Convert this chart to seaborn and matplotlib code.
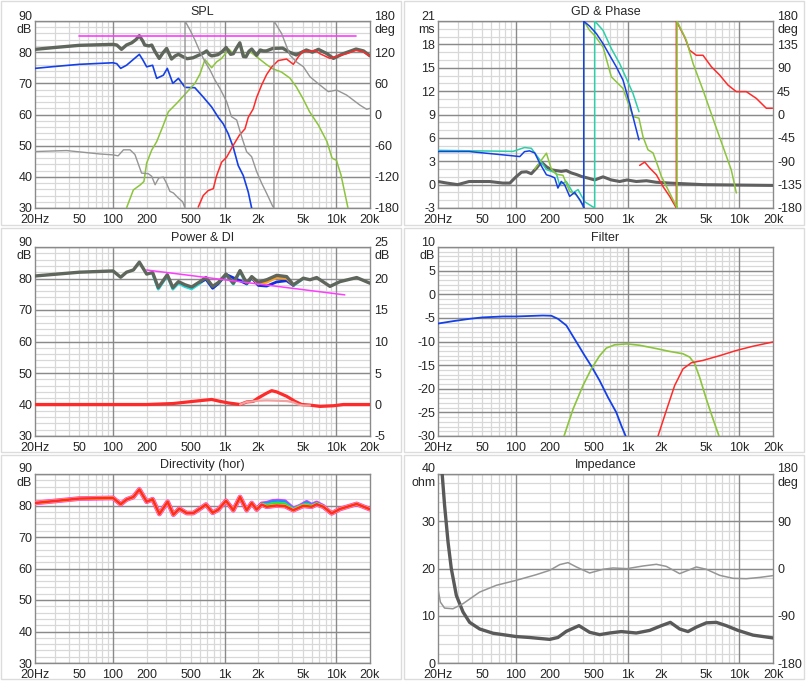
import matplotlib
matplotlib.use("Agg")
import matplotlib.pyplot as plt
import seaborn as sns
from matplotlib.patches import Rectangle
from matplotlib.ticker import NullLocator

sns.set_style("white")
plt.rcParams['font.family'] = ['Liberation Sans', 'DejaVu Sans']

# ---------------- data ----------------
# SPL panel
spl_total_f = [20,30,50,100,108,119,132,147,160,172,185,192,210,222,235,246,259,280,302,320,334,360,385,420,460,520,600,650,689,730,765,870,950,1030,1130,1194,1260,1365,1470,1550,1650,1745,1930,2080,2217,2360,2700,3300,3800,4370,5380,6100,6900,8250,9400,11500,15000,17500,20000]
spl_total_db = [80.9,81.5,82.2,82.5,82.3,80.9,82.3,83.0,84.0,85.3,83.5,82.3,82.0,82.3,80.5,79.3,78.0,79.8,81.2,79.2,77.8,78.8,79.3,78.6,77.9,78.2,79.2,79.8,80.4,79.2,78.8,79.2,80.2,81.5,79.3,79.5,81.0,83.0,78.6,78.5,80.3,81.0,79.0,80.7,80.4,80.4,81.2,81.3,80.0,79.1,80.7,80.0,80.9,79.5,78.0,79.5,81.0,80.4,78.8]
spl_woofer_f = [20,30,50,100,108,117,132,150,172,185,200,226,246,282,306,343,385,441,540,642,764,875,970,1076,1192,1322,1466,1625,1742]
spl_woofer_db = [74.8,75.4,76.1,76.6,76.3,74.8,75.8,77.5,79.3,77.5,75.3,75.8,71.6,72.6,74.8,70.0,71.6,68.7,68.6,65.6,62.4,59.1,57.0,53.8,49.5,43.6,40.4,35.1,30.0]
spl_mid_f = [132,152,175,189,200,222,246,282,313,372,441,541,600,665,764,847,938,1090,1192,1370,1518,1680,1932,2372,2680,3230,3830,4370,5000,5750,6900,8240,9140,10000,11000,12700]
spl_mid_db = [30.0,35.8,37.4,38.5,44.4,48.6,51.3,56.6,60.9,63.6,66.5,70.0,73.0,77.6,75.0,76.9,78.0,81.0,79.5,83.0,78.5,80.2,78.5,76.0,74.7,73.6,71.7,68.9,65.2,60.9,56.6,51.3,46.0,45.3,40.6,30.0]
spl_tweeter_f = [579,642,712,790,847,938,1040,1192,1350,1518,1625,1800,1932,2143,2372,2630,3015,3580,4116,4563,5059,5608,6434,7133,8766,10056,12358,14970,17430,20000]
spl_tweeter_db = [30.3,34.0,35.6,36.2,40.4,44.7,46.3,50.1,53.3,55.4,59.1,61.8,65.5,69.5,72.8,75.2,77.3,77.8,76.1,78.5,80.4,80.1,80.6,79.5,78.0,78.7,79.5,80.6,80.1,78.7]
spl_target_f = [50, 15000]
spl_target_db = [85.2, 85.2]
spl_phase_f = [20,38.4,76,100,111,124,142,157,180,207,222,238,257,282,302,323,347,385,420,441,441,489,541,600,665,738,817,905,1040,1150,1280,1417,1570,1742,1932,2143,2372,2680,2760,2760,3230,3843,4409,5059,5804,7133,8470,10056,12358,16270,18670,20000]
spl_phase_deg = [-71.3,-69.4,-76,-77.7,-79.6,-68,-68,-77,-112.8,-114,-119,-135.2,-122,-120.5,-133,-148,-151,-161,-168,-180,180,162.7,143.4,121,101.7,85.7,66.4,50.4,24.7,-4.2,-10.6,-42.7,-71.6,-81.2,-110,-132.4,-151.7,-176,-180,180,156,114,101,92,72.6,56.6,44,47,37.4,18,10,11.8]

# GD & Phase panel
gd_f = [20,24,30,38,58,76,88,100,112,124,137,152,168,187,207,229,254,282,313,347,385,441,506,601,713,847,986,1194,1470,1805,2375,3349,4723,9389,20000]
gd_ms = [0.4,0.2,0.0,0.4,0.4,0.2,0.2,1.0,1.6,1.65,1.4,2.1,2.9,2.3,1.9,1.8,1.7,1.8,1.5,1.3,1.05,0.84,0.6,1.0,0.6,0.4,0.6,0.4,0.5,0.3,0.2,0.1,0.0,-0.05,-0.1]
gd_ph_blue_f = [20,38,94,108,119,132,147,163,187,207,222,237,254,272,302,335,372,398,404,404,412,456,524,601,689,790,908,1041,1154,1261]
gd_ph_blue = [-71.3,-71.3,-79.6,-81,-71.5,-70,-74,-93.7,-116,-119,-122,-141.6,-128.8,-135,-157.6,-150,-164,-175,-180,180,178,170,155.7,136.5,114,91.8,66,21.4,-17,-49]
gd_ph_teal_f = [20,94,119,137,163,187,229,245,282,324,359,412,472,506,506,516,601,713,847,972,1115,1261]
gd_ph_teal = [-69,-71,-63.6,-65,-87,-106,-112.8,-135,-129,-151,-144.5,-168,-176,-180,180,178,162,127,98,69.4,40.6,5.4]
gd_ph_green_f = [147,163,187,207,229,263,302,347,385,404,404,456,506,601,713,908,1115,1261,1371,1519,1686,1868,2000,2375,2725,2763,2763,3349,3843,4723,6007,7133,8470,9389]
gd_ph_green = [-105,-92,-74.5,-105,-115,-117,-148,-155,-170,-180,180,162,152,130,72.6,50,-4,-7,-43,-68,-74,-100,-119,-151,-176.8,-180,180,143,98.5,47,-17,-62,-107,-151]
gd_ph_red_f = [1279,1419,1573,1805,2070,2375,2725,2725,3235,3587,4116,4723,5608,6659,7907,9389,11538,14180,17430,19730]
gd_ph_red = [-98,-91.6,-103,-116,-138.6,-157.6,-180,180,149,123.7,114,114,92,76,56.6,44,44,31,12,12]

# Power & DI panel
pw_f = [20,50,100,117,132,152,172,200,226,254,306,343,385,441,506,601,679,780,876,1027,1194,1371,1573,1745,2000,2375,2918,3587,4116,5059,5804,6659,8766,10771,15190,20000]
pw_db = [80.8,82.0,82.4,80.4,82.0,82.7,85.2,81.4,81.9,77.1,81.2,77.1,79.0,78.0,77.3,79.0,80.3,77.5,78.7,81.4,78.5,82.5,78.5,80.6,78.8,79.6,81.0,80.6,78.0,80.1,79.6,80.3,77.5,79.0,80.3,78.5]
pw_cyan_f = [226,254,306,343,385,441,506,601,679,780,876,1027,1194,1371,1573,1745,2000,2375,2918,3587,4116,5059]
pw_cyan_db = [81.6,76.6,80.9,76.6,78.5,77.4,76.7,78.5,80.0,77.0,78.4,81.2,78.2,82.3,78.2,80.3,78.4,79.2,80.6,80.2,77.7,80.0]
pw_orange_f = [1745,2000,2375,2918,3587,4116]
pw_orange_db = [80.4,78.3,78.8,80.3,80.0,77.9]
pw_blue_f = [601,679,780,876,1027,1573,1745,2000,2375,2918,3587,4116]
pw_blue_db = [78.8,79.8,76.9,78.4,81.3,78.3,80.2,77.8,77.6,78.9,79.3,77.8]
pw_target_f = [200, 11900]
pw_target_db = [82.7, 74.8]
di_f = [20,200,343,524,764,907,1078,1371,1573,1805,2000,2375,2634,2918,3587,4260,4888,5804,7133,9389,11538,20000]
di_db = [0,0,0.15,0.5,0.8,0.5,0.25,0,0.4,0.5,1.05,1.8,2.2,2.0,1.3,0.5,0,-0.1,-0.3,-0.2,0,0]
di2_f = [1371,1573,1805,2000,2375,2918,3587,4116,4563,5059,5804]
di2_db = [0,0.4,0.5,0.6,0.65,0.6,0.55,0.35,0,-0.15,-0.15]

# Filter panel
flt_woofer_f = [20,27.2,38.4,50,76.4,100,132,174,207,237,282,347,412,472,561,665,790,876,958]
flt_woofer_db = [-6.2,-5.7,-5.2,-4.9,-4.7,-4.7,-4.6,-4.5,-4.55,-5.2,-6.6,-10.1,-13.0,-15.2,-18.3,-21.8,-25.0,-27.8,-30.0]
flt_mid_f = [269,324,398,472,561,643,764,986,1279,1805,2375,3126,3587,3977,4409,5059,5804,6568]
flt_mid_db = [-30,-24.3,-19.3,-15.8,-13.0,-11.4,-10.7,-10.5,-10.8,-11.5,-12.1,-12.6,-13.3,-14.7,-17.6,-22.2,-26.4,-30]
flt_tw_f = [1868,2217,2634,3126,3713,4723,6659,9389,13238,20000]
flt_tw_db = [-30,-24.6,-19.3,-15.8,-14.5,-14.0,-13.0,-11.9,-11.0,-10.1]

# Directivity panel
dir_f = [20,50,100,117,132,152,172,200,226,260,308,347,392,456,524,601,679,780,876,1027,1194,1371,1573,1745,1933,2142,2375,2918,3466,4116,5059,6007,6659,7640,9072,10771,15190,20000]
dir_db = [80.8,82.2,82.4,80.4,81.9,82.7,85.1,81.2,82.0,77.3,81.2,77.1,79.0,77.6,77.6,79.0,80.3,77.7,78.7,81.5,78.5,82.7,78.5,80.8,78.7,80.3,79.6,80.0,79.8,78.5,79.9,79.6,80.4,79.6,77.5,78.9,80.5,78.8]
dir_up_f = [1933,2142,2375,2700,3000,3466,4116,4723,5419,6007,6659,7640]
dir_up_db = [78.9,80.6,80.8,81.4,81.5,81.3,79.0,79.9,81.1,80.2,80.9,79.8]
dir_mid_db = [78.8,80.45,80.2,80.7,80.8,80.6,78.8,79.9,80.5,79.9,80.65,79.7]

# Impedance panel
imp_f = [21.0,21.8,22.9,24.6,26.3,29.2,33.5,38.4,47.2,62.2,100,132,200,237,282,366,456,561,689,876,1194,1573,2000,2408,2918,3466,4116,5059,6217,7640,9717,13238,20000]
imp_ohm = [46,40,33.4,25.6,20,14.3,10.8,8.6,7.2,6.3,5.6,5.4,5.0,5.4,6.7,7.9,6.5,6.0,6.35,6.65,6.35,6.9,7.9,8.6,7.2,6.65,7.6,8.5,8.6,7.9,6.9,5.9,5.3]
imp_ph_f = [20,21,22.9,27.2,33.5,47.2,66.6,100,152,200,246,292,347,456,601,738,986,1371,1805,2217,2918,3466,4116,5059,6659,8766,11538,15190,20000]
imp_ph_deg = [-38.5,-64,-75.4,-76.7,-67,-44.9,-32,-22.6,-11.7,-3.5,7.4,11.2,2.9,-8.6,-1.5,1,-0.3,4.8,8,4,-9.8,-3.5,2.9,-1.5,-13,-18.7,-19.4,-17,-13.6]

TICK_F = [20,50,100,200,500,1000,2000,5000,10000,20000]
TICK_L = ['20Hz','50','100','200','500','1k','2k','5k','10k','20k']

# ---------------- style ----------------
MAJ_C = '#8a8a8a'
MIN_C = '#d8d8d8'
GRAY_THICK = '#5f665c'
BLUE = '#1440e8'
GREEN = '#8cc43c'
RED = '#ff2a2a'
PHASE_GRAY = '#959595'
MAGENTA = '#ff3cff'
TEAL = '#2ccfa8'

W, H = 806, 683
fig = plt.figure(figsize=(W/100, H/100), dpi=100)

def rect(x0, y0, x1, y1):
    return [x0/W, 1 - y1/H, (x1-x0)/W, (y1-y0)/H]

COLS = [(35, 370), (438, 773)]
ROWS = [(21, 208), (247, 436), (474, 663)]

minor_f = [m*d for d in (10, 100, 1000) for m in range(2, 10) if m*d > 20]
major_f = [100, 1000, 10000]

def setup(ax, ylim, ymaj, ymin, ylabels, title):
    ax.set_xscale('log')
    ax.set_xlim(20, 20000)
    ax.set_ylim(*ylim)
    for f in minor_f:
        ax.axvline(f, color=MIN_C, lw=0.9, zorder=0.5)
    for v in ymin:
        ax.axhline(v, color=MIN_C, lw=0.9, zorder=0.5)
    for f in major_f:
        ax.axvline(f, color=MAJ_C, lw=1.0, zorder=0.6)
    for v in ymaj:
        ax.axhline(v, color=MAJ_C, lw=1.0, zorder=0.6)
    ax.set_xticks(TICK_F)
    ax.set_xticklabels(TICK_L)
    ax.xaxis.set_minor_locator(NullLocator())
    ax.set_yticks(ymaj)
    ax.set_yticklabels(ylabels)
    ax.tick_params(axis='y', length=0, labelsize=9, pad=2)
    ax.tick_params(axis='x', length=0, labelsize=9, pad=4.5)
    for s in ax.spines.values():
        s.set_color(MAJ_C)
        s.set_linewidth(1)
    ax.set_title(title, fontsize=9, pad=4)

def twin(ax, ylim, ticks, labels):
    t = ax.twinx()
    t.set_ylim(*ylim)
    t.set_yticks(ticks)
    t.set_yticklabels(labels)
    t.tick_params(axis='y', length=0, labelsize=9, pad=3)
    for s in t.spines.values():
        s.set_visible(False)
    return t

def line(ax, f, v, color, lw, z=3, alpha=1.0):
    sns.lineplot(x=f, y=v, ax=ax, color=color, linewidth=lw, estimator=None,
                 sort=False, legend=False, zorder=z, alpha=alpha, errorbar=None)
    ax.set_xlabel('')
    ax.set_ylabel('')

def rng(a, b, s):
    out = []
    v = a
    while v <= b + 1e-9:
        out.append(round(v, 3))
        v += s
    return out

def fmt(vals, unit):
    labs = [('%g' % v) for v in vals]
    labs[-1] = labs[-1] + '\n' + unit
    return labs

# panel frames
for (x0, y0) in [(1, 1), (404, 1), (1, 228), (404, 228), (1, 455), (404, 455)]:
    fig.add_artist(Rectangle((x0/W, 1-(y0+224)/H), 400/W, 224/H, transform=fig.transFigure,
                             fill=False, edgecolor='#dcdcdc', lw=1))

# ---- SPL ----
ax = fig.add_axes(rect(COLS[0][0], ROWS[0][0], COLS[0][1], ROWS[0][1]))
maj = rng(30, 90, 10)
setup(ax, (30, 90), maj, rng(30, 90, 2), fmt(maj, 'dB'), 'SPL')
line(ax, spl_woofer_f, spl_woofer_db, BLUE, 1.2)
line(ax, spl_mid_f, spl_mid_db, GREEN, 1.1)
line(ax, spl_total_f, spl_total_db, GRAY_THICK, 2.4, z=4)
line(ax, spl_tweeter_f, spl_tweeter_db, RED, 1.1, z=5)
line(ax, spl_target_f, spl_target_db, MAGENTA, 1.2, z=5)
t = twin(ax, (-180, 180), rng(-180, 180, 60), fmt(rng(-180, 180, 60), 'deg'))
line(t, spl_phase_f, spl_phase_deg, PHASE_GRAY, 1.0)

# ---- GD & Phase ----
ax = fig.add_axes(rect(COLS[1][0], ROWS[0][0], COLS[1][1], ROWS[0][1]))
maj = rng(-3, 21, 3)
setup(ax, (-3, 21), maj, rng(-3, 21, 1), fmt(maj, 'ms'), 'GD & Phase')
line(ax, gd_f, gd_ms, '#606060', 2.2, z=4)
t = twin(ax, (-180, 180), rng(-180, 180, 45), fmt(rng(-180, 180, 45), 'deg'))
line(t, gd_ph_teal_f, gd_ph_teal, TEAL, 1.1)
line(t, gd_ph_red_f, gd_ph_red, RED, 1.1)
line(t, gd_ph_green_f, gd_ph_green, GREEN, 1.1)
line(t, gd_ph_blue_f, gd_ph_blue, BLUE, 1.1)

# ---- Power & DI ----
ax = fig.add_axes(rect(COLS[0][0], ROWS[1][0], COLS[0][1], ROWS[1][1]))
maj = rng(30, 90, 10)
setup(ax, (30, 90), maj, rng(30, 90, 2), fmt(maj, 'dB'), 'Power & DI')
line(ax, pw_cyan_f, pw_cyan_db, '#22dede', 2.0)
line(ax, pw_blue_f, pw_blue_db, '#1030e0', 2.0)
line(ax, pw_orange_f, pw_orange_db, '#ffa020', 2.0)
line(ax, pw_f, pw_db, GRAY_THICK, 2.4, z=4)
line(ax, pw_target_f, pw_target_db, MAGENTA, 1.1, z=5)
t = twin(ax, (-5, 25), rng(-5, 25, 5), fmt(rng(-5, 25, 5), 'dB'))
line(t, di_f, di_db, RED, 2.3)
line(t, di2_f, di2_db, '#f2a0a0', 1.6)

# ---- Filter ----
ax = fig.add_axes(rect(COLS[1][0], ROWS[1][0], COLS[1][1], ROWS[1][1]))
maj = rng(-30, 10, 5)
setup(ax, (-30, 10), maj, rng(-30, 10, 1), fmt(maj, 'dB'), 'Filter')
line(ax, flt_woofer_f, flt_woofer_db, BLUE, 1.3)
line(ax, flt_mid_f, flt_mid_db, GREEN, 1.2)
line(ax, flt_tw_f, flt_tw_db, RED, 1.1)

# ---- Directivity ----
ax = fig.add_axes(rect(COLS[0][0], ROWS[2][0], COLS[0][1], ROWS[2][1]))
maj = rng(30, 90, 10)
setup(ax, (30, 90), maj, rng(30, 90, 2), fmt(maj, 'dB'), 'Directivity (hor)')
line(ax, dir_f, dir_db, '#ff30ff', 3.4)
line(ax, dir_up_f, dir_up_db, '#ff30ff', 3.0)
line(ax, dir_up_f, dir_up_db, '#2a8cff', 1.8)
line(ax, dir_up_f, dir_mid_db, '#30e0d0', 1.8)
line(ax, dir_up_f, dir_mid_db, '#30e030', 1.4)
line(ax, dir_f, dir_db, '#ffd000', 2.4)
line(ax, dir_f, dir_db, RED, 1.8)

# ---- Impedance ----
ax = fig.add_axes(rect(COLS[1][0], ROWS[2][0], COLS[1][1], ROWS[2][1]))
maj = rng(0, 40, 10)
setup(ax, (0, 40), maj, rng(0, 40, 2), fmt(maj, 'ohm'), 'Impedance')
line(ax, imp_f, imp_ohm, '#5a5a5a', 2.4, z=4)
ax.set_ylim(0, 40)
t = twin(ax, (-180, 180), rng(-180, 180, 90), fmt(rng(-180, 180, 90), 'deg'))
line(t, imp_ph_f, imp_ph_deg, PHASE_GRAY, 1.1)

fig.savefig('out.png', dpi=100, facecolor='white')
